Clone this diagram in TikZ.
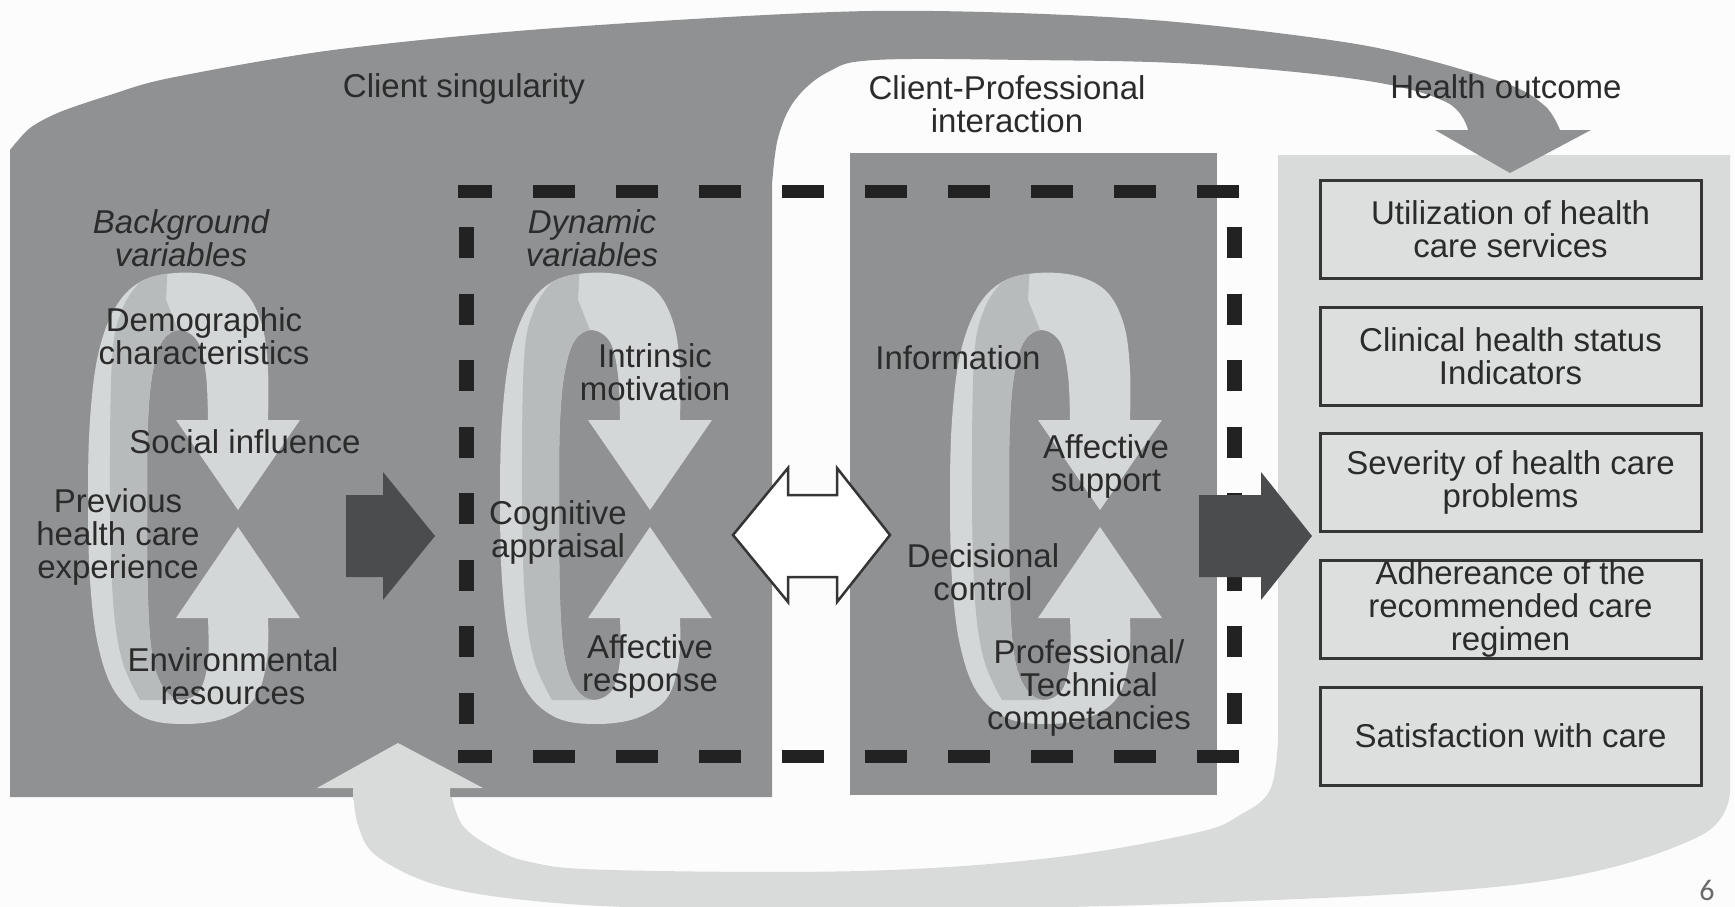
\documentclass[tikz,border=0pt]{standalone}
\usepackage{fontspec}
\setmainfont{Liberation Sans}
\newfontfamily\calfont{Carlito}
\definecolor{bgc}{HTML}{FCFCFC}
\definecolor{darkg}{HTML}{8F9193}
\definecolor{lightp}{HTML}{D9DBDB}
\definecolor{boxfill}{HTML}{DDDFDF}
\definecolor{boxline}{HTML}{353535}
\definecolor{lightarr}{HTML}{D4D7D7}
\definecolor{midarr}{HTML}{B8BBBB}
\definecolor{arrdark}{HTML}{4A4C4E}
\definecolor{dashc}{HTML}{222222}
\definecolor{textc}{HTML}{2B2B2B}
\definecolor{pagenum}{HTML}{6A6A6A}
\newcommand\ribbonpath{(268,618) -- plot[smooth, tension=0.6] coordinates {(268,618) (267,660) (255,698) (225,718) (185,724) (145,718) (115,692) (98,645) (90,580) (88,497) (90,420) (98,355) (115,308) (140,282) (175,273) (215,276) (245,292) (262,325) (268,370) (268,420)} -- (208,420) -- plot[smooth, tension=0.6] coordinates {(208,420) (206,375) (198,342) (180,330) (163,340) (153,370) (148,420) (147,497) (148,600) (153,660) (165,690) (182,700) (200,690) (208,660) (208,618)} -- cycle}
\begin{document}
\begin{tikzpicture}[x=1pt,y=-1pt,
  txt/.style={text=textc, align=center, font=\fontsize{33}{33}\selectfont, inner sep=0pt},
  itx/.style={txt, font=\fontsize{33}{33}\selectfont\itshape},
  outbox/.style={txt, draw=boxline, line width=3pt, fill=boxfill, minimum width=381pt, minimum height=98pt},
  hdash/.style={draw=dashc, line width=13pt, dash pattern=on 42pt off 41pt, dash phase=8pt},
  vdash/.style={draw=dashc, line width=15pt, dash pattern=on 31pt off 35.5pt},
  blockarr/.style={fill=arrdark},
  cyc/.pic={
    \fill[lightarr] \ribbonpath;
    \begin{scope}
      \clip \ribbonpath;
      \fill[midarr] (168,262) -- plot[smooth, tension=0.6] coordinates {(168,262) (142,280) (122,310) (112,360) (110,497) (113,600) (122,660) (140,700)} -- (178,700) -- (178,330) -- (166,300) -- cycle;
    \end{scope}
    \fill[lightarr] (176,420) -- (300,420) -- (238,510) -- cycle;
    \fill[lightarr] (176,618) -- (300,618) -- (238,527) -- cycle;
  }
]
\useasboundingbox (0,0) rectangle (1735,907);
\fill[bgc] (0,0) rectangle (1735,907);

% light outcome panel with feedback band
\fill[lightp] (1278,155) -- (1278,740) -- plot[smooth, tension=0.6] coordinates {(1278,740) (1270,790) (1240,815) (1195,833) (1050,858) (860,871) (611,870) (530,862) (488,845) (461,823) (450,788)}
  -- (483,788) -- (398,743) -- (317,788) -- (353,788)
  -- plot[smooth, tension=0.6] coordinates {(353,788) (358,825) (378,857) (444,887) (556,903) (700,909) (871,910) (1200,903) (1530,883) (1698,837) (1730,790)}
  -- (1730,155) -- cycle;

% dark client singularity shape with top arrow
\fill[darkg] (10,797) -- (10,150) -- plot[smooth, tension=0.5] coordinates {(10,150) (30,128) (60,112) (110,95) (170,78) (333,50) (556,28) (871,11) (1139,19) (1362,45) (1502,82) (1545,106) (1560,130)}
  -- (1591,130) -- (1510,173) -- (1435,130) -- (1468,130)
  -- plot[smooth, tension=0.6] coordinates {(1468,130) (1446,102) (1362,80) (1195,64) (1027,60) (875,60) (828,72) (795,100) (778,138) (772,185)}
  -- (772,797) -- cycle;

% interaction rectangle
\fill[darkg] (850,153) rectangle (1217,795);

% feedback arrow head drawn over the client shape
\fill[lightp] (353,800) -- (353,788) -- (317,788) -- (398,743) -- (483,788) -- (450,788) -- (450,800) -- cycle;

% cycles
\pic at (0,0) {cyc};
\pic at (412,0) {cyc};
\pic at (862,0) {cyc};

% dashed frame
\draw[hdash] (458,191.5) -- (1242,191.5);
\draw[hdash] (458,756) -- (1242,756);
\draw[vdash] (466,227) -- (466,724);
\draw[vdash] (1234,227) -- (1234,724);

% block arrows
\fill[blockarr] (346,495) -- (383,495) -- (383,472) -- (435,536) -- (383,600) -- (383,577) -- (346,577) -- cycle;
\fill[blockarr] (1199,495) -- (1261,495) -- (1261,472) -- (1312,536) -- (1261,600) -- (1261,577) -- (1199,577) -- cycle;

% double arrow
\draw[fill=white, draw=boxline, line width=2.5pt, line join=miter]
  (733,535) -- (788,468) -- (788,495) -- (837,495) -- (837,468) -- (890,535) -- (837,602) -- (837,577) -- (788,577) -- (788,602) -- cycle;

% headings
\node[txt] (hcs) at (464,89) {Client singularity};
\node[txt] (hcp) at (1007,104) {Client-Professional\\interaction};
\node[txt] (hho) at (1506,87) {Health outcome};

% client singularity texts
\node[itx] (bgv) at (181,238) {Background\\variables};
\node[txt] (dem) at (204,336) {Demographic\\characteristics};
\node[txt] (soc) at (245,442) {Social influence};
\node[txt] (prev) at (118,537) {Previous\\health care\\experience};
\node[txt] (env) at (233,676) {Environmental\\resources};
\node[itx] (dyn) at (592,238) {Dynamic\\variables};
\node[txt] (intr) at (655,372) {Intrinsic\\motivation};
\node[txt] (cog) at (558,532) {Cognitive\\appraisal};
\node[txt] (aff) at (650,666) {Affective\\response};

% interaction texts
\node[txt] (info) at (958,358) {Information};
\node[txt] (affs) at (1106,466) {Affective\\support};
\node[txt] (dec) at (983,572) {Decisional\\control};
\node[txt] (prof) at (1089,688) {Professional/\\Technical\\competancies};

% outcome boxes
\node[outbox] (b1) at (1510.5,229) {Utilization of health\\care services};
\node[outbox] (b2) at (1510.5,356) {Clinical health status\\Indicators};
\node[outbox] (b3) at (1510.5,482) {Severity of health care\\problems};
\node[outbox] (b4) at (1510.5,609) {Adhereance of the\\recommended care\\regimen};
\node[outbox] (b5) at (1510.5,736) {Satisfaction with care};

\node[text=pagenum, font=\calfont\fontsize{30}{30}\selectfont, inner sep=0pt] (pg) at (1707,890) {6};
\end{tikzpicture}
\end{document}
